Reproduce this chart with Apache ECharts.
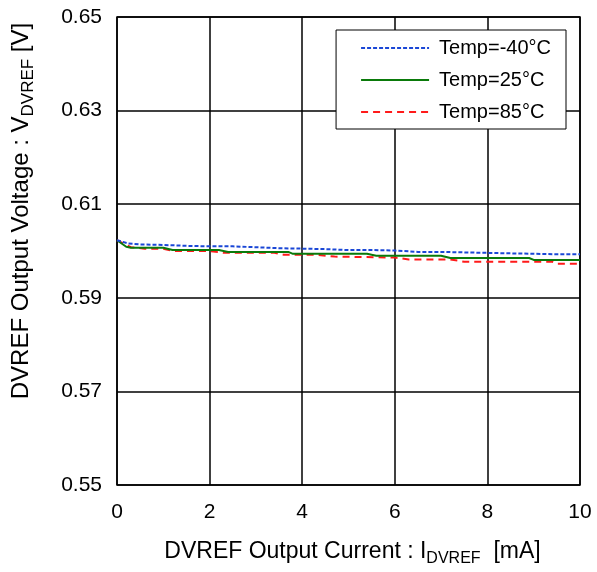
<!DOCTYPE html>
<html>
<head>
<meta charset="utf-8">
<script src="https://cdn.jsdelivr.net/npm/echarts@6/dist/echarts.min.js"></script>
<style>
  html, body { margin: 0; padding: 0; background: #fff; }
  #chart { width: 597px; height: 572px; }
</style>
</head>
<body>
<div id="chart"></div>
<script>
// DVREF output voltage vs output current, three temperatures
var seriesNames = ['Temp=-40°C', 'Temp=25°C', 'Temp=85°C']

var xM40 = [0, 0.25, 0.5, 1, 1.5, 2, 2.5, 3, 3.5, 4, 4.5, 5, 5.5, 6, 6.5, 7, 7.5, 8, 8.5, 9, 9.5, 10]
var yM40 = [0.6023, 0.6016, 0.6014, 0.6013, 0.6011, 0.6010, 0.6010, 0.6008, 0.6006, 0.6005, 0.6004, 0.6002, 0.6002, 0.6001, 0.5998, 0.5998, 0.5997, 0.5996, 0.5995, 0.5994, 0.5993, 0.5993]

var x25 = [0, 0.2, 0.3, 1.0, 1.2, 2.2, 2.4, 3.7, 3.8, 5.4, 5.6, 7.0, 7.2, 8.9, 9.0, 10]
var y25 = [0.6023, 0.6009, 0.6007, 0.6007, 0.6002, 0.6002, 0.5998, 0.5998, 0.5994, 0.5994, 0.5990, 0.5990, 0.5985, 0.5985, 0.5981, 0.5981]

var x85 = [0, 0.3, 0.6, 1.0, 1.2, 2.0, 2.3, 3.4, 3.6, 4.3, 4.7, 6.0, 6.3, 7.2, 7.5, 9.4, 9.5, 10]
var y85 = [0.6023, 0.6008, 0.6005, 0.6005, 0.6000, 0.6000, 0.5996, 0.5996, 0.5992, 0.5992, 0.5988, 0.5986, 0.5982, 0.5982, 0.5977, 0.5977, 0.5973, 0.5973]

var xTicks = [0, 2, 4, 6, 8, 10]
var yTicks = [0.55, 0.57, 0.59, 0.61, 0.63, 0.65]

function pairs(xs, ys) {
  return xs.map(function (x, i) { return [x, ys[i]] })
}

var chart = echarts.init(document.getElementById('chart'))
var font = '"Liberation Sans", Arial, sans-serif'

chart.setOption({
  animation: false,
  textStyle: { fontFamily: font },
  grid: {
    left: 117,
    top: 17,
    right: 17,
    bottom: 86,
    show: true,
    borderColor: '#000',
    borderWidth: 1.5
  },
  legend: {
    data: seriesNames,
    orient: 'vertical',
    right: 31,
    top: 30,
    itemWidth: 68,
    itemHeight: 14,
    itemGap: 12,
    padding: [8, 15, 7, 24],
    backgroundColor: '#fff',
    borderColor: '#000',
    borderWidth: 1,
    itemStyle: { color: 'rgba(0,0,0,0)', borderWidth: 0, opacity: 0 },
    textStyle: { fontFamily: font, fontSize: 20, lineHeight: 20, color: '#000', padding: [0, 0, 0, 5] }
  },
  xAxis: {
    type: 'value',
    min: xTicks[0],
    max: xTicks[xTicks.length - 1],
    interval: 2,
    name: '{a|DVREF Output Current : I}{s|DVREF}{a|  [mA]}',
    nameLocation: 'middle',
    nameGap: 52,
    nameTextStyle: {
      padding: [0, 0, 0, 8],
      rich: {
        a: { fontFamily: font, fontSize: 23, color: '#000', lineHeight: 30, verticalAlign: 'middle' },
        s: { fontFamily: font, fontSize: 16, color: '#000', lineHeight: 17, verticalAlign: 'bottom' }
      }
    },
    axisLine: { show: false },
    axisTick: { show: false },
    axisLabel: { fontFamily: font, fontSize: 21, color: '#000', margin: 17 },
    splitLine: { show: true, lineStyle: { color: '#000', width: 1.5 } }
  },
  yAxis: {
    type: 'value',
    min: yTicks[0],
    max: yTicks[yTicks.length - 1],
    interval: 0.02,
    name: '{a|DVREF Output Voltage : V}{s|DVREF}{a| [V]}',
    nameLocation: 'middle',
    nameGap: 80,
    nameTextStyle: {
      padding: [0, 0, 0, 80],
      rich: {
        a: { fontFamily: font, fontSize: 24, color: '#000', lineHeight: 32, verticalAlign: 'middle' },
        s: { fontFamily: font, fontSize: 17, color: '#000', lineHeight: 18, verticalAlign: 'bottom' }
      }
    },
    axisLine: { show: false },
    axisTick: { show: false },
    axisLabel: {
      fontFamily: font,
      fontSize: 21,
      color: '#000',
      margin: 15,
      formatter: function (v) { return v.toFixed(2) }
    },
    splitLine: { show: true, lineStyle: { color: '#000', width: 1.5 } }
  },
  series: [
    {
      name: seriesNames[0],
      type: 'line',
      symbol: 'none',
      data: pairs(xM40, yM40),
      lineStyle: { color: '#1a47d6', width: 2, type: [4, 2] },
      itemStyle: { color: '#1a47d6' },
      z: 3
    },
    {
      name: seriesNames[1],
      type: 'line',
      symbol: 'none',
      data: pairs(x25, y25),
      lineStyle: { color: '#0a7a0a', width: 2, type: 'solid' },
      itemStyle: { color: '#0a7a0a' },
      z: 2
    },
    {
      name: seriesNames[2],
      type: 'line',
      symbol: 'none',
      data: pairs(x85, y85),
      lineStyle: { color: '#ff1a1a', width: 2, type: [7, 5] },
      itemStyle: { color: '#ff1a1a' },
      z: 1
    }
  ]
})
</script>
</body>
</html>
